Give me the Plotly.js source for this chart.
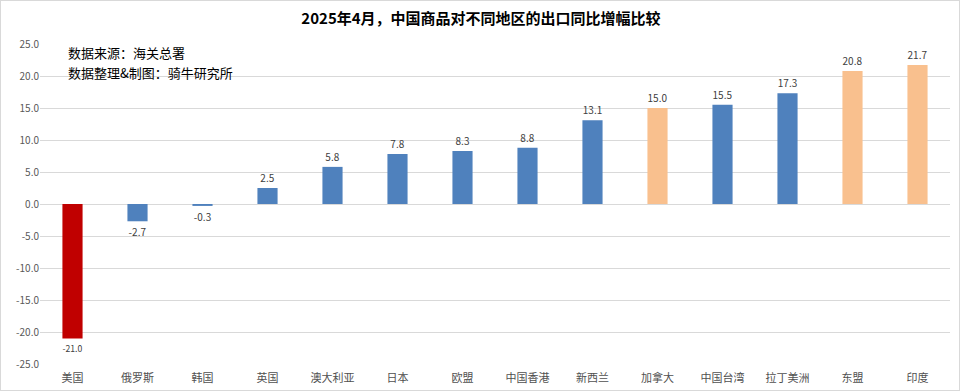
<!DOCTYPE html>
<html><head><meta charset="utf-8">
<script src="https://cdn.plot.ly/plotly-3.0.1.min.js"></script>
<style>html,body{margin:0;padding:0;background:#fff;}#chart{width:960px;height:391px;box-sizing:border-box;border:1px solid #d9d9d9;}</style>
</head><body><div id="chart"></div>
<script>
const categories = ['美国','俄罗斯','韩国','英国','澳大利亚','日本','欧盟','中国香港','新西兰','加拿大','中国台湾','拉丁美洲','东盟','印度'];
const values = [-21.0,-2.7,-0.3,2.5,5.8,7.8,8.3,8.8,13.1,15.0,15.5,17.3,20.8,21.7];
const colorGroup = ['red','blue','blue','blue','blue','blue','blue','blue','blue','orange','blue','blue','orange','orange'];
const palette = {red:'#C00000', blue:'#4F81BD', orange:'#F9C08E'};
const yTicks = [-25,-20,-15,-10,-5,0,5,10,15,20,25];

const trace = {
  type:'bar', x:categories, y:values,
  marker:{color:colorGroup.map(c=>palette[c])},
  text:values.map(v=>v.toFixed(1)), textposition:'outside', cliponaxis:false,
  textfont:{family:'Noto Sans CJK SC, sans-serif', size:10, color:'#404040'},
  hoverinfo:'none'
};
const layout = {
  width:960, height:391, margin:{l:39,r:11,t:43,b:28},
  paper_bgcolor:'rgba(0,0,0,0)', plot_bgcolor:'#fff',
  bargap:0.69, showlegend:false,
  title:{text:'2025年4月，中国商品对不同地区的出口同比增幅比较', x:0.5, xanchor:'center', y:0.955, yanchor:'middle',
    font:{family:'Noto Sans CJK SC, sans-serif', size:15, color:'#000', weight:'bold'}},
  xaxis:{tickfont:{family:'Noto Sans CJK SC, sans-serif', size:11, color:'#505050'}, showline:false,
    ticks:'outside', ticklen:4, tickcolor:'rgba(0,0,0,0)', fixedrange:true},
  yaxis:{range:[-25,25], tickvals:yTicks, ticktext:yTicks.map(v=>v.toFixed(1)), gridcolor:'#d9d9d9', gridwidth:1,
    zeroline:true, zerolinecolor:'#d9d9d9', zerolinewidth:1, showline:false, ticks:'',
    tickfont:{family:'Noto Sans CJK SC, sans-serif', size:10, color:'#595959'}},
  annotations:[
    {xref:'paper', yref:'paper', x:0.029, y:0.975, xanchor:'left', yanchor:'middle', showarrow:false, align:'left',
     text:'数据来源：海关总署', font:{family:'Noto Sans CJK SC, sans-serif', size:13, color:'#000'}},
    {xref:'paper', yref:'paper', x:0.029, y:0.91, xanchor:'left', yanchor:'middle', showarrow:false, align:'left',
     text:'数据整理&制图：骑牛研究所', font:{family:'Noto Sans CJK SC, sans-serif', size:13, color:'#000'}}
  ]
};
Plotly.newPlot('chart',[trace],layout,{staticPlot:true});
</script></body></html>
